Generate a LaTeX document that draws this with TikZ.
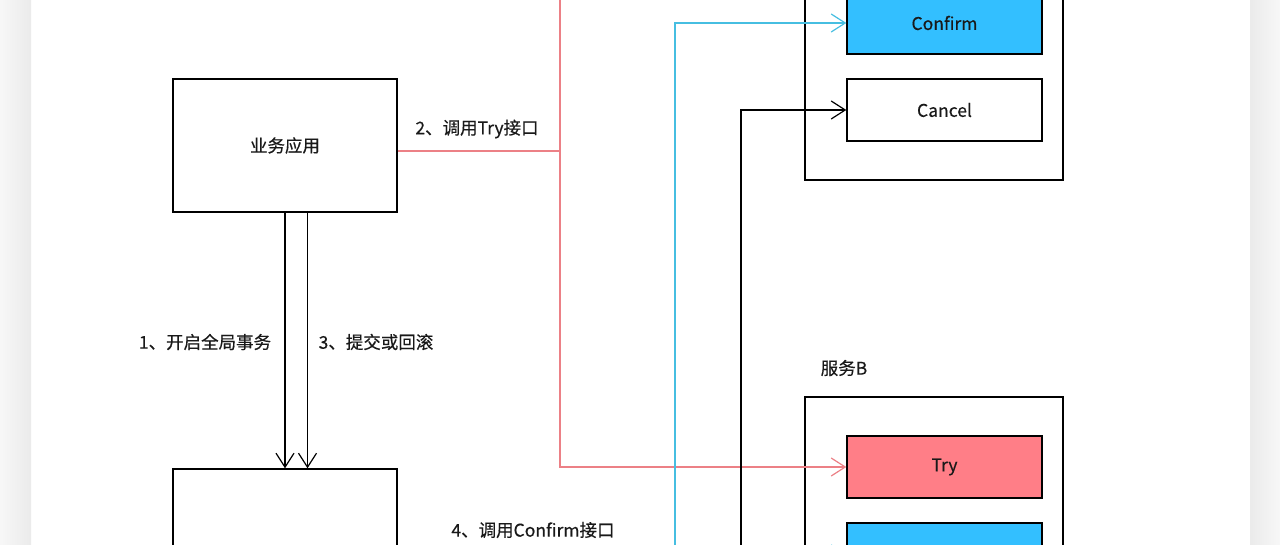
\documentclass[tikz,border=0pt]{standalone}
\usepackage{fontspec}
\setmainfont{Noto Sans CJK SC}[FakeBold=0.4]
\usetikzlibrary{arrows.meta}
\definecolor{redline}{RGB}{236,128,134}
\definecolor{cyanline}{RGB}{70,190,225}
\definecolor{tryfill}{RGB}{255,126,135}
\definecolor{conffill}{RGB}{51,191,255}
\definecolor{txt}{RGB}{25,25,25}
\tikzset{
  box/.style={draw=black, line width=1.4pt, rectangle, inner sep=0pt, text=txt},
  subbox/.style={box, minimum width=195pt, minimum height=62pt},
  outerbox/.style={box, minimum width=258pt, minimum height=314pt},
  lbl/.style={text=txt, inner sep=0pt},
  arr/.style={line width=1.2pt, -{Straight Barb[length=14pt,width=18pt,line width=1.2pt]}},
}
\begin{document}
\begin{tikzpicture}[x=1pt,y=-1pt,font=\fontsize{17.5pt}{21pt}\selectfont]
\useasboundingbox (0,0) rectangle (1280,545);
\clip (0,0) rectangle (1280,545);
\fill[white] (0,0) rectangle (1280,545);
\shade[left color=white!97!black, right color=white!92!black] (0,0) rectangle (31,545);
\shade[left color=white!92!black, right color=white!97!black] (1250,0) rectangle (1280,545);

% left column
\node[box, minimum width=224pt, minimum height=133pt] (app) at (285,145.5) {业务应用};
\node[box, minimum width=224pt, minimum height=260pt] (tc) at (285,599) {};

% service A (upper part lies above the visible area)
\node[outerbox] (svcA) at (934,23) {};
\node[subbox, fill=tryfill] (tryA) at (944.5,-64) {};
\node[subbox, fill=conffill] (confA) at (944.5,23) {Confirm};
\node[subbox] (cancelA) at (944.5,110) {Cancel};

% service B (lower part lies below the visible area)
\node[outerbox] (svcB) at (934,554) {};
\node[lbl] (svcBlbl) at (844,368) {服务B};
\node[subbox, fill=tryfill] (tryB) at (944.5,467) {Try};
\node[subbox, fill=conffill] (confB) at (944.5,554) {};
\node[subbox] (cancelB) at (944.5,641) {};

% labels
\node[lbl] (l1) at (205,342) {1、开启全局事务};
\node[lbl] (l3) at (376,342) {3、提交或回滚};
\node[lbl] (l2) at (477,129) {2、调用Try接口};
\node[lbl] (l4) at (533,530) {4、调用Confirm接口};

% junction points
\coordinate (rj) at (560,151);
\coordinate (cj) at (675,554);
\coordinate (kj) at (741,641);

% begin / commit arrows
\draw[arr] (app.south) -- (tc.north);
\draw[arr] ([xshift=22.5pt]app.south) -- ([xshift=22.5pt]tc.north);

% Try calls
\draw[redline, line width=1.2pt] ([yshift=-5.5pt]app.east) -- (rj);
\draw[redline, arr] (rj) |- (tryA.west);
\draw[redline, arr] (rj) |- (tryB.west);

% Confirm calls
\draw[cyanline, arr] (tc.east |- cj) -- (confB.west);
\draw[cyanline, arr] (cj) |- (confA.west);

% Cancel calls
\draw[black, arr] (tc.east |- kj) -- (cancelB.west);
\draw[black, arr] (kj) |- (cancelA.west);
\end{tikzpicture}
\end{document}
